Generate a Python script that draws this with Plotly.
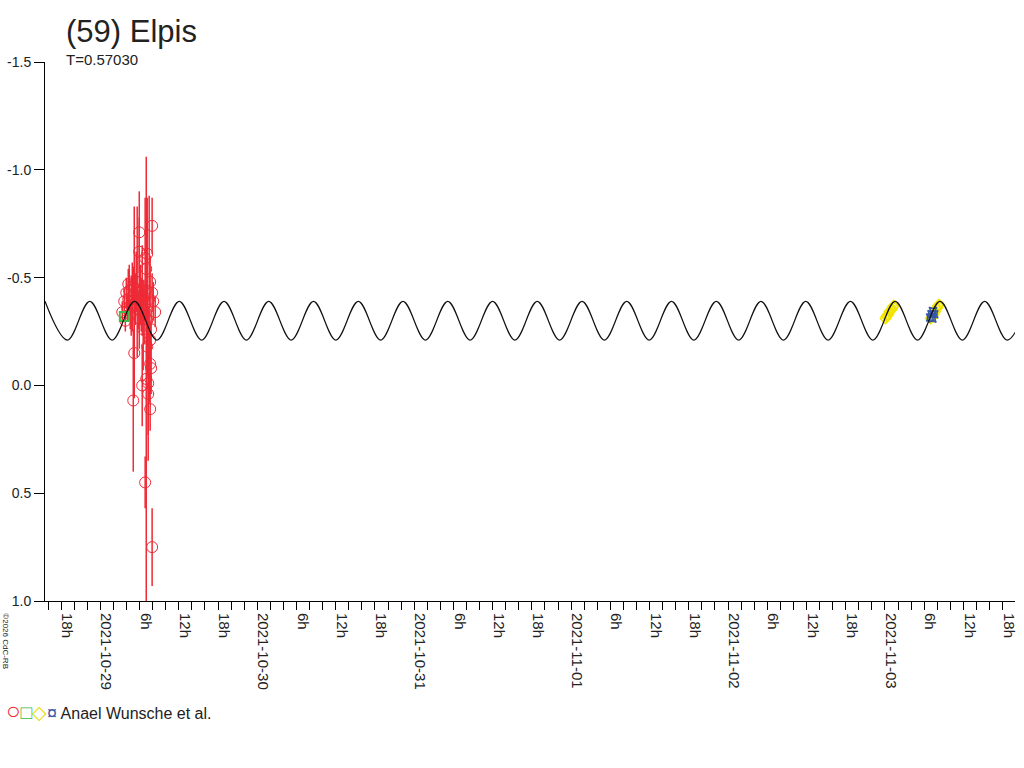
import plotly.graph_objects as go
import pandas as pd

# Anael Wunsche et al. - red circles (time, relative mag, error)
red_time = [
    "2021-10-29 03:21", "2021-10-29 03:39", "2021-10-29 03:58", "2021-10-29 04:07",
    "2021-10-29 04:16", "2021-10-29 04:25", "2021-10-29 04:34", "2021-10-29 04:43",
    "2021-10-29 04:53", "2021-10-29 05:02", "2021-10-29 05:11", "2021-10-29 05:11",
    "2021-10-29 05:20", "2021-10-29 05:29", "2021-10-29 05:38", "2021-10-29 05:47",
    "2021-10-29 05:57", "2021-10-29 05:57", "2021-10-29 06:06", "2021-10-29 06:15",
    "2021-10-29 06:24", "2021-10-29 06:24", "2021-10-29 06:33", "2021-10-29 06:42",
    "2021-10-29 06:51", "2021-10-29 06:51", "2021-10-29 07:01", "2021-10-29 07:01",
    "2021-10-29 07:10", "2021-10-29 07:10", "2021-10-29 07:19", "2021-10-29 07:19",
    "2021-10-29 07:28", "2021-10-29 07:37", "2021-10-29 07:37", "2021-10-29 07:46",
    "2021-10-29 07:55", "2021-10-29 07:55", "2021-10-29 07:55", "2021-10-29 08:05",
    "2021-10-29 08:23", "2021-10-29 07:46", "2021-10-29 07:10", "2021-10-29 07:37",
    "2021-10-29 06:33", "2021-10-29 03:49", "2021-10-29 04:16", "2021-10-29 05:02",
    "2021-10-29 07:01", "2021-10-29 07:37", "2021-10-29 05:57",
]
red_mag = [
    -0.34, -0.39, -0.43, -0.36, -0.40, -0.44, -0.33, -0.37,
    -0.41, 0.07, -0.15, -0.45, -0.40, -0.48, -0.48, -0.35,
    -0.71, -0.62, -0.42, -0.37, 0.00, -0.44, -0.40, -0.33,
    -0.59, 0.45, -0.03, -0.54, -0.61, -0.18, -0.01, 0.04,
    -0.40, -0.10, 0.11, -0.08, -0.43, -0.74, 0.75, -0.39,
    -0.34, -0.26, -0.30, -0.21, -0.26, -0.30, -0.47, -0.46,
    -0.44, -0.48, -0.31,
]
red_err = [
    0.05, 0.06, 0.07, 0.06, 0.09, 0.12, 0.07, 0.14,
    0.16, 0.33, 0.21, 0.38, 0.12, 0.14, 0.35, 0.09,
    0.19, 0.16, 0.14, 0.12, 0.19, 0.21, 0.09, 0.14,
    0.28, 0.12, 1.03, 0.23, 0.26, 0.14, 0.36, 0.19,
    0.48, 0.14, 0.10, 0.12, 0.09, 0.13, 0.18, 0.09,
    0.07, 0.09, 0.12, 0.09, 0.19, 0.05, 0.07, 0.09,
    0.16, 0.12, 0.14,
]

green_time = ["2021-10-29 03:40"]
green_mag = [-0.32]

yellow_time = [
    "2021-11-03 00:05", "2021-11-03 00:13", "2021-11-03 00:22", "2021-11-03 00:30",
    "2021-11-03 00:39", "2021-11-03 00:47", "2021-11-03 00:56", "2021-11-03 01:04",
    "2021-11-03 01:13", "2021-11-03 01:21",
    "2021-11-03 07:00", "2021-11-03 07:08", "2021-11-03 07:17", "2021-11-03 07:25",
    "2021-11-03 07:34", "2021-11-03 07:42", "2021-11-03 07:51", "2021-11-03 07:59",
    "2021-11-03 08:08", "2021-11-03 08:16",
]
yellow_mag = [
    -0.31, -0.32, -0.325, -0.33, -0.34, -0.345, -0.35, -0.355, -0.365, -0.37,
    -0.31, -0.315, -0.325, -0.33, -0.34, -0.345, -0.355, -0.36, -0.37, -0.375,
]

blue_time = ["2021-11-03 06:55", "2021-11-03 07:07", "2021-11-03 07:20", "2021-11-03 07:32", "2021-11-03 07:15"]
blue_mag = [-0.315, -0.33, -0.345, -0.33, -0.31]

# model lightcurve: extrema (peak, trough, peak, ...)
curve_time = [
    "2021-10-28 15:32", "2021-10-28 18:58", "2021-10-28 22:23", "2021-10-29 01:48",
    "2021-10-29 05:14", "2021-10-29 08:39", "2021-10-29 12:04", "2021-10-29 15:30",
    "2021-10-29 18:55", "2021-10-29 22:20", "2021-10-30 01:45", "2021-10-30 05:11",
    "2021-10-30 08:36", "2021-10-30 12:01", "2021-10-30 15:27", "2021-10-30 18:52",
    "2021-10-30 22:17", "2021-10-31 01:43", "2021-10-31 05:08", "2021-10-31 08:33",
    "2021-10-31 11:59", "2021-10-31 15:24", "2021-10-31 18:49", "2021-10-31 22:14",
    "2021-11-01 01:40", "2021-11-01 05:05", "2021-11-01 08:30", "2021-11-01 11:56",
    "2021-11-01 15:21", "2021-11-01 18:46", "2021-11-01 22:12", "2021-11-02 01:37",
    "2021-11-02 05:02", "2021-11-02 08:28", "2021-11-02 11:53", "2021-11-02 15:18",
    "2021-11-02 18:43", "2021-11-02 22:09", "2021-11-03 01:34", "2021-11-03 04:59",
    "2021-11-03 08:25", "2021-11-03 11:50", "2021-11-03 15:15", "2021-11-03 18:41",
    "2021-11-03 22:06",
]
curve_mag = [-0.39 if i % 2 == 0 else -0.21 for i in range(len(curve_time))]

y_ticks = [-1.5, -1.0, -0.5, 0.0, 0.5, 1.0]
y_labels = ["-1.5", "-1.0", "-0.5", "0.0", "0.5", "1.0"]

x_ticks = pd.date_range("2021-10-28 18:00", "2021-11-03 18:00", freq="6h")
x_labels = [t.strftime("%Y-%m-%d") if t.hour == 0 else f"{t.hour}h" for t in x_ticks]

red = "#ee2a36"
fnt = "Liberation Sans, Arial, sans-serif"

fig = go.Figure()

fig.add_trace(go.Scatter(
    x=red_time, y=red_mag, mode="markers",
    marker=dict(symbol="circle-open", size=11, color=red, line=dict(width=1)),
    error_y=dict(type="data", array=red_err, visible=True, color=red, thickness=1.5, width=0),
    showlegend=False, hoverinfo="skip"
))
fig.add_trace(go.Scatter(
    x=green_time, y=green_mag, mode="markers",
    marker=dict(symbol="square-open", size=9, color="#46b846", line=dict(width=2)),
    showlegend=False, hoverinfo="skip"
))
fig.add_trace(go.Scatter(
    x=yellow_time, y=yellow_mag, mode="markers",
    marker=dict(symbol="diamond-open", size=8, color="#f2e600", line=dict(width=1.5)),
    showlegend=False, hoverinfo="skip"
))
fig.add_trace(go.Scatter(
    x=blue_time, y=blue_mag, mode="markers",
    marker=dict(symbol="star-square-open", size=7, color="#3557a8", line=dict(width=1.5)),
    showlegend=False, hoverinfo="skip"
))
fig.add_trace(go.Scatter(
    x=curve_time, y=curve_mag, mode="lines",
    line=dict(color="#111111", width=1.2, shape="spline", smoothing=1),
    showlegend=False, hoverinfo="skip"
))

# title and period
fig.add_annotation(text="(59) Elpis", xref="paper", yref="paper", x=0.0195, y=1.0565,
                   xanchor="left", yanchor="middle", showarrow=False,
                   font=dict(size=31, color="#222222", family=fnt))
fig.add_annotation(text="T=0.57030", xref="paper", yref="paper", x=0.0195, y=1.004,
                   xanchor="left", yanchor="middle", showarrow=False,
                   font=dict(size=15, color="#222222", family=fnt))

# legend line
legend_text = ("<span style='color:#ee2a36;font-size:24px'>○</span>"
               "<span style='color:#46b846;font-size:19px'>□</span>"
               "<span style='color:#e8dc00;font-size:19px'>◇</span>"
               "<span style='color:#3557a8;font-size:18px'>¤</span> "
               "Anael Wunsche et al.")
fig.add_annotation(text=legend_text, xref="paper", yref="paper", x=-0.0421, y=-0.204,
                   xanchor="left", yanchor="middle", showarrow=False,
                   font=dict(size=16, color="#222222", family=fnt))

# copyright
fig.add_annotation(text="©2026 CdC-RB", xref="paper", yref="paper", x=-0.0411, y=-0.075,
                   xanchor="center", yanchor="middle", showarrow=False, textangle=90,
                   font=dict(size=8, color="#222222", family=fnt))

fig.update_layout(
    width=1024, height=768,
    margin=dict(l=45, r=6, t=62, b=167),
    plot_bgcolor="white", paper_bgcolor="white",
    font=dict(family=fnt, color="#222222"),
    xaxis=dict(
        type="date",
        range=["2021-10-28 15:32", "2021-11-03 19:53"],
        tickmode="array", tickvals=list(x_ticks), ticktext=x_labels,
        tickangle=90, ticks="outside", ticklen=8, tickcolor="black", tickwidth=1,
        ticklabelshift=6,
        minor=dict(ticks="outside", ticklen=8, tickcolor="black", dtick=2 * 3600 * 1000,
                   tick0="2021-10-28 00:00", showgrid=False),
        showline=True, linecolor="black", linewidth=1,
        showgrid=False, zeroline=False,
        tickfont=dict(size=15, color="#222222", family=fnt),
    ),
    yaxis=dict(
        range=[1.0, -1.5],
        tickmode="array", tickvals=y_ticks, ticktext=y_labels,
        ticks="outside", ticklen=10, tickcolor="black", tickwidth=1,
        showline=True, linecolor="black", linewidth=1,
        showgrid=False, zeroline=False,
        tickfont=dict(size=14, color="#222222", family=fnt),
    ),
)

fig.write_html("out.html", config={"displayModeBar": False},
               post_script="document.body.style.margin='0';")
